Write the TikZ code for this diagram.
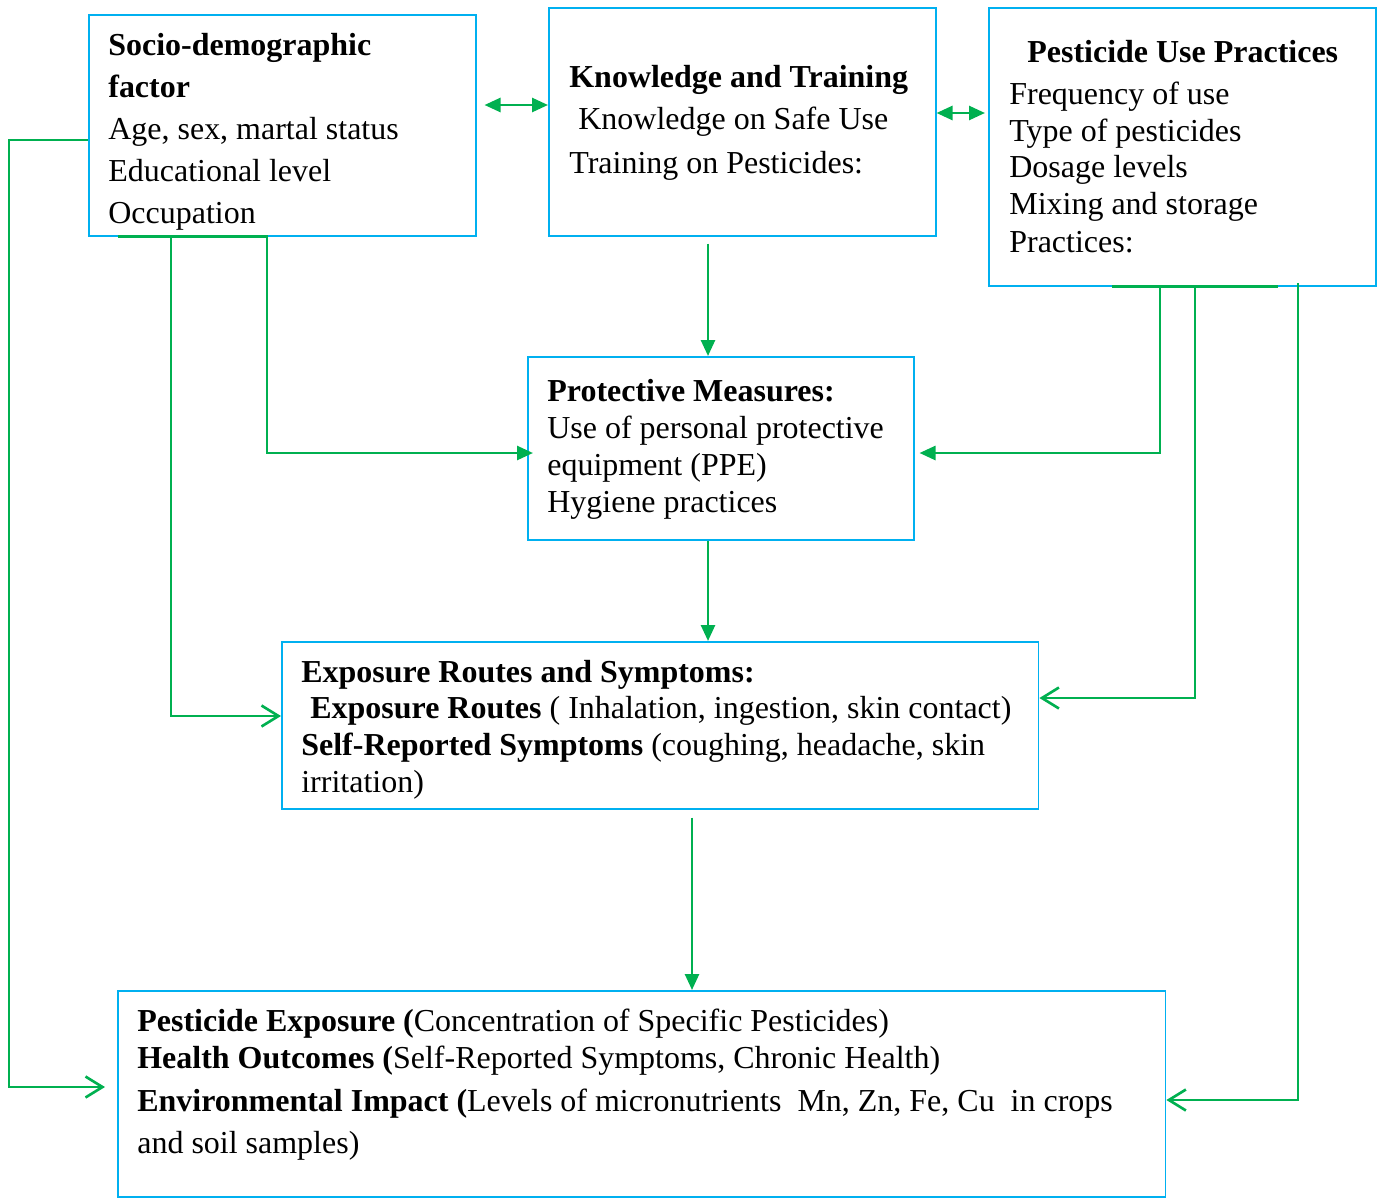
\documentclass[tikz,border=0pt]{standalone}
\usepackage{fontspec}
\setmainfont{Liberation Serif}
\usetikzlibrary{arrows.meta}
\definecolor{boxblue}{RGB}{0,176,240}
\definecolor{linkgreen}{RGB}{0,176,80}
\begin{document}
\fontsize{18.2}{22}\selectfont
\begin{tikzpicture}[x=0.02cm,y=-0.02cm,
    box/.style={draw=boxblue,line width=0.9pt,anchor=north west,inner sep=0pt},
    txt/.style={anchor=base west,inner sep=0pt},
    link/.style={draw=linkgreen,line width=1.5pt},
    tri/.style={link,-{Triangle[length=0.32cm,width=0.28cm]}},
    both/.style={link,{Triangle[length=0.32cm,width=0.28cm]}-{Triangle[length=0.32cm,width=0.28cm]}},
    barb/.style={link,-{Straight Barb[length=0.34cm,width=0.42cm]}}]
    \useasboundingbox (0,0) rectangle (1382,1197);
    \node[box,minimum width=7.74cm,minimum height=4.42cm] (A) at (88,14) {};
    \node[box,minimum width=7.74cm,minimum height=4.56cm] (B) at (548,7) {};
    \node[box,minimum width=7.74cm,minimum height=5.56cm] (C) at (988,7) {};
    \node[box,minimum width=7.72cm,minimum height=3.66cm] (D) at (527,356) {};
    \node[box,minimum width=15.14cm,minimum height=3.34cm] (E) at (281,641) {};
    \node[box,minimum width=20.96cm,minimum height=4.12cm] (F) at (117,990) {};
    \node[txt] (a1) at (108,55) {\textbf{Socio-demographic}};
    \node[txt] (a2) at (108,97) {\textbf{factor}};
    \node[txt] (a3) at (108,139) {Age, sex, martal status};
    \node[txt] (a4) at (108,181) {Educational level};
    \node[txt] (a5) at (108,223) {Occupation};
    \node[txt] (b1) at (569,87) {\textbf{Knowledge and Training}};
    \node[txt] (b2) at (578,129) {Knowledge on Safe Use};
    \node[txt] (b3) at (569,173) {Training on Pesticides:};
    \node[txt] (c1) at (1027,62) {\textbf{Pesticide Use Practices}};
    \node[txt] (c2) at (1009,104) {Frequency of use};
    \node[txt] (c3) at (1009,141) {Type of pesticides};
    \node[txt] (c4) at (1009,177) {Dosage levels};
    \node[txt] (c5) at (1009,214) {Mixing and storage};
    \node[txt] (c6) at (1009,252) {Practices:};
    \node[txt] (d1) at (547,401) {\textbf{Protective Measures:}};
    \node[txt] (d2) at (547,438) {Use of personal protective};
    \node[txt] (d3) at (547,475) {equipment (PPE)};
    \node[txt] (d4) at (547,512) {Hygiene practices};
    \node[txt] (e1) at (301,682) {\textbf{Exposure Routes and Symptoms:}};
    \node[txt] (e2) at (310,718) {\textbf{Exposure Routes} ( Inhalation, ingestion, skin contact)};
    \node[txt] (e3) at (301,755) {\textbf{Self-Reported Symptoms} (coughing, headache, skin};
    \node[txt] (e4) at (301,792) {irritation)};
    \node[txt] (f1) at (137,1031) {\textbf{Pesticide Exposure (}Concentration of Specific Pesticides)};
    \node[txt] (f2) at (137,1068) {\textbf{Health Outcomes (}Self-Reported Symptoms, Chronic Health)};
    \node[txt] (f3) at (137,1111) {\textbf{Environmental Impact (}Levels of micronutrients\ \ Mn, Zn, Fe, Cu\ \ in crops};
    \node[txt] (f4) at (137,1153) {and soil samples)};
    \draw[both,shorten <=0.16cm] (A.east |- 0,105) -- (B.west |- 0,105);
    \draw[both] (B.east |- 0,113) -- ([xshift=-0.06cm]C.west |- 0,113);
    \draw[tri,shorten <=0.14cm] (B.south -| 708,0) -- (D.north -| 708,0);
    \draw[link] (A.south -| 118,0) -- (A.south -| 268,0);
    \draw[tri] (A.south -| 267,0) |- ([xshift=0.12cm]D.west |- 0,453);
    \draw[barb] (A.south -| 171,0) |- (E.west |- 0,716);
    \draw[barb,shorten >=0.24cm] (A.west |- 0,140) -- (9,140) |- (F.west |- 0,1087);
    \draw[link] (C.south -| 1112,0) -- (C.south -| 1278,0);
    \draw[tri,shorten >=0.1cm] (C.south -| 1160,0) |- (D.east |- 0,453);
    \draw[barb] (C.south -| 1195,0) |- (E.east |- 0,698);
    \draw[barb] (1298,283) |- (F.east |- 0,1100);
    \draw[tri] (D.south -| 708,0) -- (E.north -| 708,0);
    \draw[tri,shorten <=0.16cm] (E.south -| 692,0) -- (F.north -| 692,0);
\end{tikzpicture}
\end{document}
